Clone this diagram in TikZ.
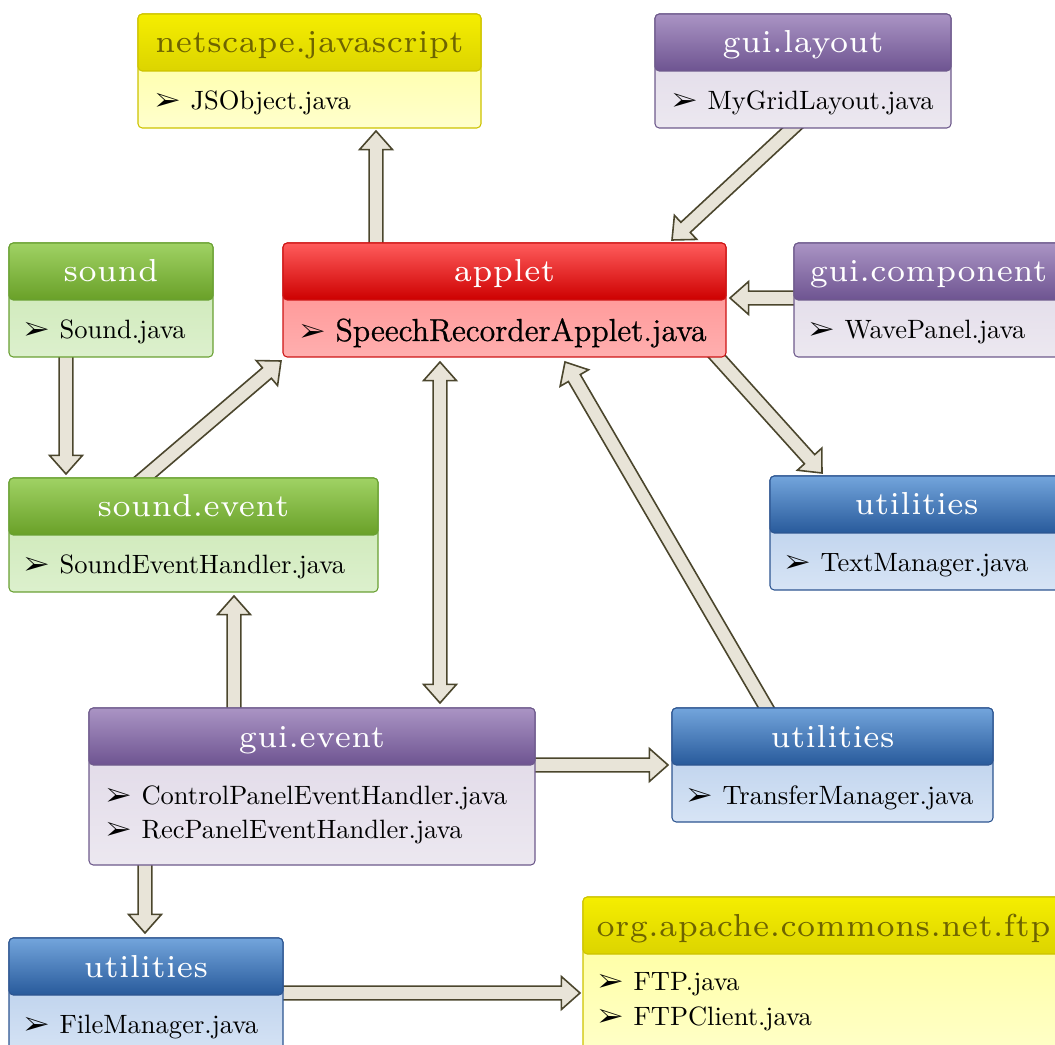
\documentclass[tikz,border=0pt]{standalone}
\usepackage{fontspec}
\usepackage{pifont}
\usetikzlibrary{calc}
\newfontfamily\hdrfont[LetterSpace=1.5]{lmroman7-regular.otf}
\newfontfamily\appfont[FakeBold=0.8]{Latin Modern Roman}
\pgfdeclarelayer{bg}
\pgfsetlayers{bg,main}
% colours
\definecolor{yelborder}{RGB}{205,195,0}
\definecolor{yelh1}{RGB}{245,238,0}
\definecolor{yelh2}{RGB}{220,212,0}
\definecolor{yelht}{RGB}{110,100,0}
\definecolor{yelb1}{RGB}{255,255,150}
\definecolor{yelb2}{RGB}{255,255,205}
\definecolor{purborder}{RGB}{110,90,140}
\definecolor{purh1}{RGB}{170,148,196}
\definecolor{purh2}{RGB}{110,84,145}
\definecolor{purht}{RGB}{255,255,255}
\definecolor{purb1}{RGB}{222,214,230}
\definecolor{purb2}{RGB}{236,232,240}
\definecolor{grnborder}{RGB}{105,160,50}
\definecolor{grnh1}{RGB}{160,210,100}
\definecolor{grnh2}{RGB}{105,160,40}
\definecolor{grnht}{RGB}{255,255,255}
\definecolor{grnb1}{RGB}{200,230,175}
\definecolor{grnb2}{RGB}{220,240,205}
\definecolor{redborder}{RGB}{205,20,20}
\definecolor{redh1}{RGB}{255,92,92}
\definecolor{redh2}{RGB}{205,0,0}
\definecolor{redht}{RGB}{255,255,255}
\definecolor{redb1}{RGB}{255,135,135}
\definecolor{redb2}{RGB}{255,175,175}
\definecolor{bluborder}{RGB}{45,85,145}
\definecolor{bluh1}{RGB}{115,165,220}
\definecolor{bluh2}{RGB}{40,90,155}
\definecolor{bluht}{RGB}{255,255,255}
\definecolor{blub1}{RGB}{175,200,232}
\definecolor{blub2}{RGB}{215,228,245}
\definecolor{arrline}{RGB}{75,70,45}
\definecolor{arrfill}{RGB}{232,228,216}
\def\px{0.377pt}
\def\aw{2.6pt}
\def\AW{6.2pt}
\def\al{7pt}
\newcommand\fatarrow[2]{%
  \path (#1) coordinate (fas) (#2) coordinate (fae);
  \path ($(fae)!\al!(fas)$) coordinate (fab);
  \draw[fatarr] ($(fas)!\aw!90:(fae)$) -- ($(fab)!\aw!90:(fae)$) -- ($(fab)!\AW!90:(fae)$)
    -- (fae) -- ($(fab)!\AW!-90:(fae)$) -- ($(fab)!\aw!-90:(fae)$) -- ($(fas)!\aw!-90:(fae)$) -- cycle;}
\newcommand\fatdarrow[2]{%
  \path (#1) coordinate (fas) (#2) coordinate (fae);
  \path ($(fae)!\al!(fas)$) coordinate (fab) ($(fas)!\al!(fae)$) coordinate (faa);
  \draw[fatarr] (fas) -- ($(faa)!\AW!-90:(fas)$) -- ($(faa)!\aw!-90:(fas)$)
    -- ($(fab)!\aw!90:(fae)$) -- ($(fab)!\AW!90:(fae)$)
    -- (fae) -- ($(fab)!\AW!-90:(fae)$) -- ($(fab)!\aw!-90:(fae)$)
    -- ($(faa)!\aw!90:(fas)$) -- ($(faa)!\AW!90:(fas)$) -- cycle;}
\tikzset{
  pbody/.style={draw=#1border, rounded corners=1.6pt, top color=#1b1, bottom color=#1b2,
    line width=0.4pt, anchor=north west, inner sep=0pt, outer sep=0pt},
  phead/.style={draw=#1border, rounded corners=1.6pt, top color=#1h1, bottom color=#1h2,
    line width=0.4pt, text=#1ht, font=\hdrfont\fontsize{12}{14}\selectfont, anchor=north west,
    inner sep=0pt, outer sep=0pt, minimum height=57*\px, text height=39*\px, text depth=18*\px},
  pitem/.style={anchor=base west, inner sep=0pt},
  fatarr/.style={draw=arrline, fill=arrfill, line width=0.6pt, line join=miter},
}
\newcommand\itm[1]{\makebox[13.2pt][l]{\ding{226}}#1}
\begin{document}
\begin{tikzpicture}[x=0.377pt, y=-0.377pt]
\useasboundingbox (0,0) rectangle (1055,1045);
% netscape.javascript
\node[pbody=yel, minimum width=343*\px, minimum height=114*\px] (ns) at (138,14) {};
\node[phead=yel, minimum width=343*\px] (nsh) at (ns.north west) {netscape.javascript};
\node[pitem] (ns1) at ($(ns.north west)+(17,96)$) {\itm{JSObject.java}};
% gui.layout
\node[pbody=pur, minimum width=296*\px, minimum height=114*\px] (gl) at (655,14) {};
\node[phead=pur, minimum width=296*\px] (glh) at (gl.north west) {gui.layout};
\node[pitem] (gl1) at ($(gl.north west)+(17,96)$) {\itm{MyGridLayout.java}};
% sound
\node[pbody=grn, minimum width=204*\px, minimum height=114*\px] (snd) at (9,243) {};
\node[phead=grn, minimum width=204*\px] (sndh) at (snd.north west) {sound};
\node[pitem] (snd1) at ($(snd.north west)+(15,96)$) {\itm{Sound.java}};
% applet
\node[pbody=red, minimum width=443*\px, minimum height=114*\px] (app) at (283,243) {};
\node[phead=red, minimum width=443*\px] (apph) at (app.north west) {applet};
\node[pitem] (app1) at ($(app.north west)+(17,98)$) {\itm{\appfont\large SpeechRecorderApplet.java}};
% gui.component
\node[pbody=pur, minimum width=269*\px, minimum height=114*\px] (gc) at (794,243) {};
\node[phead=pur, minimum width=269*\px] (gch) at (gc.north west) {gui.component};
\node[pitem] (gc1) at ($(gc.north west)+(15,96)$) {\itm{WavePanel.java}};
% sound.event
\node[pbody=grn, minimum width=369*\px, minimum height=114*\px] (se) at (9,478) {};
\node[phead=grn, minimum width=369*\px] (seh) at (se.north west) {sound.event};
\node[pitem] (se1) at ($(se.north west)+(15,96)$) {\itm{SoundEventHandler.java}};
% utilities TextManager
\node[pbody=blu, minimum width=293*\px, minimum height=114*\px] (tm) at (770,476) {};
\node[phead=blu, minimum width=293*\px] (tmh) at (tm.north west) {utilities};
\node[pitem] (tm1) at ($(tm.north west)+(15,96)$) {\itm{TextManager.java}};
% gui.event
\node[pbody=pur, minimum width=446*\px, minimum height=157*\px] (ge) at (89,708) {};
\node[phead=pur, minimum width=446*\px] (geh) at (ge.north west) {gui.event};
\node[pitem] (ge1) at ($(ge.north west)+(17,96)$) {\itm{ControlPanelEventHandler.java}};
\node[pitem] (ge2) at ($(ge.north west)+(17,131)$) {\itm{RecPanelEventHandler.java}};
% utilities TransferManager
\node[pbody=blu, minimum width=321*\px, minimum height=114*\px] (trm) at (672,708) {};
\node[phead=blu, minimum width=321*\px] (trmh) at (trm.north west) {utilities};
\node[pitem] (trm1) at ($(trm.north west)+(15,96)$) {\itm{TransferManager.java}};
% utilities FileManager
\node[pbody=blu, minimum width=274*\px, minimum height=120*\px] (fm) at (9,938) {};
\node[phead=blu, minimum width=274*\px] (fmh) at (fm.north west) {utilities};
\node[pitem] (fm1) at ($(fm.north west)+(15,95)$) {\itm{FileManager.java}};
% org.apache.commons.net.ftp
\node[pbody=yel, minimum width=481*\px, minimum height=170*\px] (ftp) at (583,897) {};
\node[phead=yel, minimum width=481*\px] (ftph) at (ftp.north west) {org.apache.commons.net.ftp};
\node[pitem] (ftp1) at ($(ftp.north west)+(15,93)$) {\itm{FTP.java}};
\node[pitem] (ftp2) at ($(ftp.north west)+(15,128)$) {\itm{FTPClient.java}};
% connectors
\begin{pgfonlayer}{bg}
\fatarrow{$(app.north west)+(93,6)$}{$(ns.south west)+(238,3)$}
\fatarrow{$(gl.south west)+(144,-6)$}{$(app.north east)+(-54,-3)$}
\fatarrow{$(gc.west)+(6,-2)$}{$(app.east)+(4,-2)$}
\fatarrow{$(app.south east)+(-14,-6)$}{$(tm.north west)+(52,-3)$}
\fatarrow{$(snd.south west)+(57,-6)$}{$(se.north west)+(57,-4)$}
\fatarrow{$(se.north west)+(128,6)$}{$(app.south west)+(-2,4)$}
\fatdarrow{$(app.south west)+(157,5)$}{$(ge.north west)+(351,-5)$}
\fatarrow{$(ge.north west)+(145,6)$}{$(se.south west)+(225,4)$}
\fatarrow{$(trm.north west)+(98,6)$}{$(app.south west)+(282,5)$}
\fatarrow{$(ge.north east)+(-6,57)$}{$(trm.west)+(-4,0)$}
\fatarrow{$(ge.south west)+(56,-6)$}{$(fm.north west)+(136,-5)$}
\fatarrow{$(fm.north east)+(-6,55)$}{$(ftp.north west)+(-3,96)$}
\end{pgfonlayer}
\end{tikzpicture}
\end{document}
